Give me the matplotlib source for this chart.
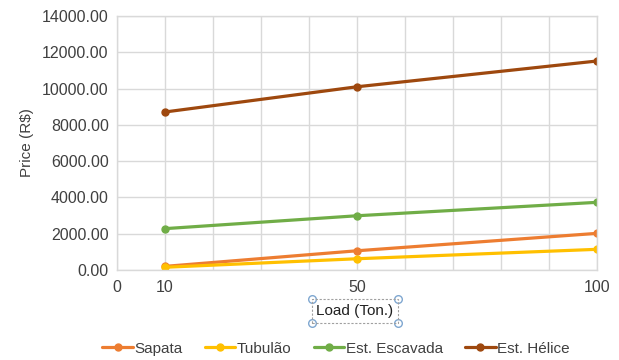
import matplotlib
matplotlib.use("Agg")
import matplotlib.pyplot as plt
from matplotlib.lines import Line2D

plt.rcParams['font.family'] = ['Liberation Sans', 'DejaVu Sans']

# load in tons
loads = [10, 50, 100]

# price in R$ per foundation type
sapata = [200, 1060, 2020]
tubulao = [150, 620, 1140]
escavada = [2280, 2990, 3730]
helice = [8710, 10100, 11520]

series_names = ["Sapata", "Tubulão", "Est. Escavada", "Est. Hélice"]
colors = ["#ED7D31", "#FFC000", "#70AD47", "#9E480E"]

x_ticks = list(range(0, 101, 10))
x_labels_shown = [0, 10, 50, 100]
y_ticks = list(range(0, 14001, 2000))

text_col = "#404040"
grid_col = "#D9D9D9"

fig = plt.figure(figsize=(6.19, 3.6), dpi=100)
ax = fig.add_axes([0.189, 0.25, 0.7755, 0.7055])

for name, vals, c in zip(series_names, [sapata, tubulao, escavada, helice], colors):
    ax.plot(loads, vals, color=c, lw=2.3, marker="o", ms=5, label=name,
            solid_capstyle="round")

ax.set_xlim(0, 100)
ax.set_ylim(0, 14000)
ax.set_xticks(x_ticks)
ax.set_xticklabels([str(t) if t in x_labels_shown else "" for t in x_ticks])
ax.set_yticks(y_ticks)
ax.set_yticklabels([f"{v:.2f}" for v in y_ticks])
ax.tick_params(length=0, labelsize=11.5, colors=text_col, pad=6)
ax.tick_params(axis="x", pad=7)

ax.grid(True, color=grid_col, lw=1)
ax.set_axisbelow(True)
for s in ax.spines.values():
    s.set_color(grid_col)
    s.set_linewidth(1)

ax.set_ylabel("Price (R$)", fontsize=11, color=text_col, labelpad=6)

# axis title shown as a selected text box with handles
xlab = fig.text(0.5735, 0.136, "Load (Ton.)", fontsize=11, color="#202020",
                ha="center", va="center",
                bbox=dict(boxstyle="square,pad=0.3", fc="none", ec="#A0A0A0",
                          ls=(0, (2, 1.5)), lw=0.8))

fig.legend(loc="center", bbox_to_anchor=(0.543, 0.031), ncol=4, frameon=False,
           fontsize=11, handlelength=2.0, columnspacing=1.45, handletextpad=0.1,
           labelcolor=text_col)

fig.canvas.draw()
bb = xlab.get_bbox_patch().get_window_extent().transformed(fig.transFigure.inverted())
fig.add_artist(Line2D([bb.x0, bb.x1, bb.x0, bb.x1], [bb.y0, bb.y0, bb.y1, bb.y1],
                      transform=fig.transFigure, ls="none", marker="o", ms=5.5,
                      mfc="white", mec="#7FA7D0", mew=1))

fig.savefig("out.png", dpi=100)
